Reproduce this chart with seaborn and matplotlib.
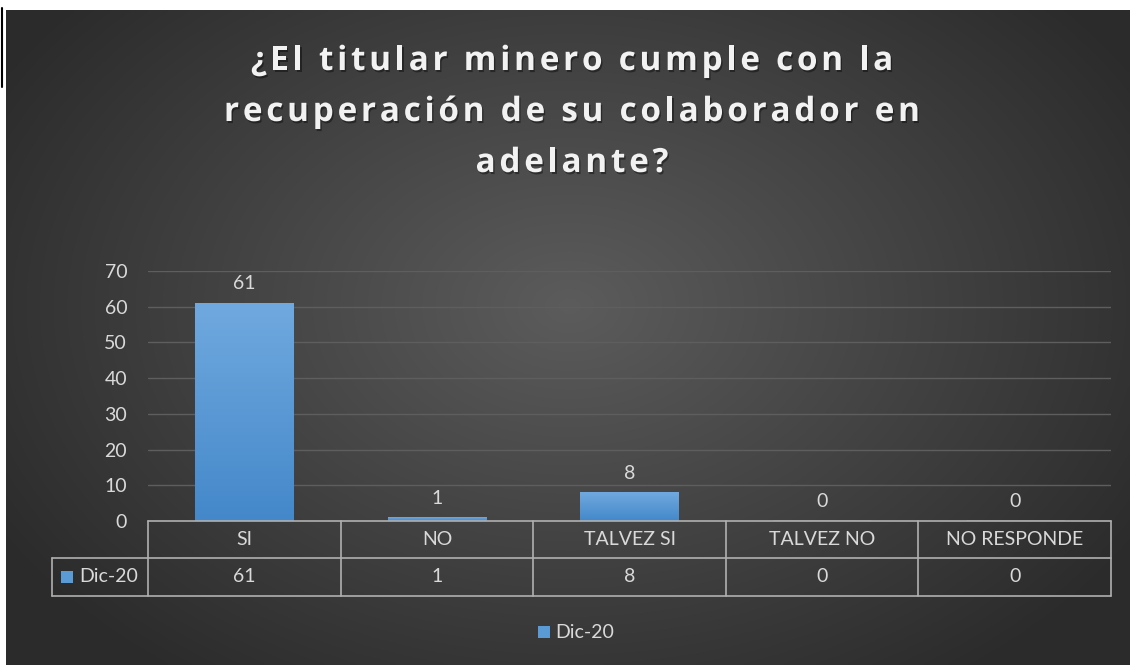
import numpy as np
import pandas as pd
import matplotlib
matplotlib.use("Agg")
import matplotlib.pyplot as plt
import seaborn as sns
from matplotlib.patches import Rectangle
from matplotlib.font_manager import FontProperties, findfont, get_font
import matplotlib.patheffects as pe

categories = ["SI", "NO", "TALVEZ SI", "TALVEZ NO", "NO RESPONDE"]
values = [61, 1, 8, 0, 0]
series_name = "Dic-20"
yticks = [0, 10, 20, 30, 40, 50, 60, 70]
title_lines = ["¿El titular minero cumple con la",
               "recuperación de su colaborador en",
               "adelante?"]

sns.set_theme(style="dark")
plt.rcParams['font.family'] = ['Lato', 'DejaVu Sans']

FS = 14
TC = "#d9d9d9"
W, H = 1130, 665
fig = plt.figure(figsize=(W / 100, H / 100), dpi=100)
fig.patch.set_facecolor("white")

# background with radial gradient
bg = fig.add_axes([6 / W, 0, 1 - 6 / W, 1 - 10 / H])
bg.set_axis_off()
yy, xx = np.mgrid[0:200, 0:340]
cx, cy = 170, 90
d = np.sqrt(((xx - cx) / 200) ** 2 + ((yy - cy) / 140) ** 2)
d = np.clip(d, 0, 1)
lum = 0.36 - 0.19 * d
img = np.dstack([lum, lum, lum])
bg.imshow(img, aspect="auto", extent=[0, 1, 0, 1], interpolation="bilinear")
bg.set_xlim(0, 1)
bg.set_ylim(0, 1)

def fx(px):
    return px / W
def fy(py):
    return 1 - py / H

# thin black frame edge at top-left
fig.add_artist(plt.Line2D([fx(1.5)] * 2, [fy(8), fy(87)], color="black", lw=1.5))

# main axes
x0, x1 = 148, 1111
y0, y1 = 521, 271
ax = fig.add_axes([x0 / W, 1 - y0 / H, (x1 - x0) / W, (y0 - y1) / H])
ax.patch.set_alpha(0)
df = pd.DataFrame({"cat": categories, "val": values})
sns.barplot(data=df, x="cat", y="val", ax=ax, color="#5b9bd5", width=0.51,
            saturation=1, zorder=3)
ax.set_ylim(0, 70)
ax.set_xlim(-0.5, len(categories) - 0.5)
ax.set_yticks(yticks)
ax.set_yticklabels([str(t) for t in yticks], color=TC, fontsize=FS)
ax.tick_params(axis="y", length=0, pad=15)
ax.set_xticks([])
ax.set_xlabel("")
ax.set_ylabel("")
for s in ax.spines.values():
    s.set_visible(False)
ax.grid(False)
for t in yticks[1:]:
    ax.axhline(t, color="#5e5e5e", lw=1.0, zorder=1)

# gradient fill on bars
grad = np.linspace(0, 1, 256).reshape(-1, 1)
top_c = np.array([0x70, 0xa9, 0xdf]) / 255
bot_c = np.array([0x44, 0x88, 0xca]) / 255
gimg = (bot_c[None, None, :] * (1 - grad[..., None]) + top_c[None, None, :] * grad[..., None])
for p in ax.patches:
    bx, by = p.get_x(), p.get_y()
    bw, bh = p.get_width(), p.get_height()
    if bh <= 0:
        continue
    p.set_facecolor("none")
    p.set_edgecolor("none")
    im = ax.imshow(gimg, extent=[bx, bx + bw, by, by + bh], origin="lower",
                   aspect="auto", zorder=3)
    im.set_clip_path(p)
ax.set_xlim(-0.5, len(categories) - 0.5)
ax.set_ylim(0, 70)

for i, v in enumerate(values):
    ax.text(i, v + 3.0, str(v), ha="center", va="bottom", color=TC, fontsize=FS)

# data table
lc = "#b0b0b0"
tx0 = 52
ry = [521, 558, 596]
cw = (x1 - x0) / len(categories)
fig.add_artist(plt.Line2D([fx(x0), fx(x1)], [fy(ry[0])] * 2, color=lc, lw=1.2))
fig.add_artist(plt.Line2D([fx(tx0), fx(x1)], [fy(ry[1])] * 2, color=lc, lw=1.2))
fig.add_artist(plt.Line2D([fx(tx0), fx(x1)], [fy(ry[2])] * 2, color=lc, lw=1.2))
fig.add_artist(plt.Line2D([fx(tx0)] * 2, [fy(ry[1]), fy(ry[2])], color=lc, lw=1.2))
for k in range(len(categories) + 1):
    xp = x0 + k * cw
    fig.add_artist(plt.Line2D([fx(xp)] * 2, [fy(ry[0]), fy(ry[2])], color=lc, lw=1.2))
for k, (c, v) in enumerate(zip(categories, values)):
    xc = x0 + (k + 0.5) * cw
    fig.text(fx(xc), fy((ry[0] + ry[1]) / 2), c, ha="center", va="center",
             color=TC, fontsize=FS)
    fig.text(fx(xc), fy((ry[1] + ry[2]) / 2), str(v), ha="center", va="center",
             color=TC, fontsize=FS)
fig.add_artist(Rectangle((fx(61), fy(583)), 12 / W, 12 / H, transform=fig.transFigure,
                         facecolor="#5b9bd5", edgecolor="none"))
fig.text(fx(79), fy(577), series_name, ha="left", va="center", color=TC, fontsize=FS)

# legend
fig.add_artist(Rectangle((fx(538), fy(638)), 12 / W, 12 / H, transform=fig.transFigure,
                         facecolor="#5b9bd5", edgecolor="none"))
fig.text(fx(555), fy(632), series_name, ha="left", va="center", color=TC, fontsize=FS)

# title with letter spacing
TFS = 24
tprop = FontProperties(family="Open Sans", weight="bold", size=TFS)
font = get_font(findfont(tprop))
font.set_size(TFS, 100)
def advances(s):
    out = []
    for ch in s:
        g = font.load_char(ord(ch))
        out.append(g.linearHoriAdvance / 65536)
    return out
target_w2 = 696
adv2 = advances(title_lines[1])
spacing = (target_w2 - sum(adv2)) / (len(title_lines[1]) - 1)
baselines = [70, 121, 172]
shadow = [pe.SimplePatchShadow(offset=(1.0, -1.5), shadow_rgbFace="black", alpha=0.4),
          pe.Normal()]
for line, by in zip(title_lines, baselines):
    adv = advances(line)
    total = sum(adv) + spacing * (len(line) - 1)
    xpos = 572 - total / 2
    for ch, a in zip(line, adv):
        if ch != " ":
            fig.text(fx(xpos + a / 2), fy(by), ch, ha="center", va="baseline",
                     color="#f2f2f2", fontproperties=tprop, path_effects=shadow)
        xpos += a + spacing

fig.savefig("out.png", dpi=100, facecolor=fig.get_facecolor())
